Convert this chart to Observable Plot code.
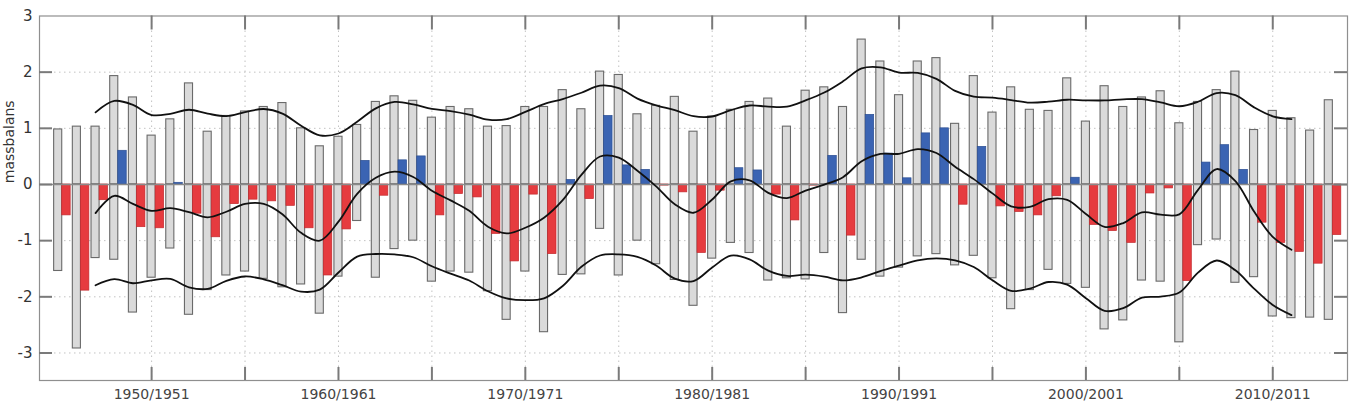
<!DOCTYPE html>
<html><head><meta charset="utf-8">
<script src="https://cdn.jsdelivr.net/npm/d3@7"></script>
<script src="https://cdn.jsdelivr.net/npm/@observablehq/plot@0.6"></script>
<style>
html,body{margin:0;padding:0;background:#fff;}
#chart{width:1354px;height:410px;}
</style></head><body><div id="chart"></div>
<script>
// Mass balance year (start year of the hydrological year, e.g. 1945 = 1945/46)
const years = [1945,1946,1947,1948,1949,1950,1951,1952,1953,1954,
  1955,1956,1957,1958,1959,1960,1961,1962,1963,1964,
  1965,1966,1967,1968,1969,1970,1971,1972,1973,1974,
  1975,1976,1977,1978,1979,1980,1981,1982,1983,1984,
  1985,1986,1987,1988,1989,1990,1991,1992,1993,1994,
  1995,1996,1997,1998,1999,2000,2001,2002,2003,2004,
  2005,2006,2007,2008,2009,2010,2011,2012,2013];
const winter = [0.98,1.03,1.03,1.93,1.55,0.87,1.16,1.80,0.94,1.22,
  1.30,1.38,1.45,1.00,0.68,0.85,1.06,1.47,1.57,1.49,
  1.19,1.38,1.34,1.03,1.04,1.38,1.38,1.68,1.34,2.01,
  1.95,1.25,1.40,1.56,0.94,1.21,1.33,1.47,1.53,1.03,
  1.67,1.73,1.38,2.58,2.19,1.59,2.19,2.25,1.08,1.93,
  1.28,1.73,1.33,1.31,1.89,1.12,1.75,1.38,1.55,1.66,
  1.09,1.47,1.68,2.01,0.97,1.31,1.18,0.96,1.50];
const summer = [-1.54,-2.92,-1.31,-1.34,-2.28,-1.66,-1.14,-2.32,-1.88,-1.62,
  -1.55,-1.68,-1.83,-1.78,-2.30,-1.64,-0.65,-1.66,-1.15,-1.00,
  -1.73,-1.55,-1.57,-1.90,-2.41,-1.55,-2.63,-1.61,-1.60,-0.79,
  -1.62,-1.00,-1.42,-1.70,-2.16,-1.32,-1.04,-1.22,-1.71,-1.67,
  -1.69,-1.22,-2.29,-1.34,-1.64,-1.48,-1.28,-1.24,-1.44,-1.27,
  -1.67,-2.22,-1.88,-1.52,-1.77,-1.84,-2.58,-2.42,-1.71,-1.73,
  -2.81,-1.08,-0.98,-1.75,-1.65,-2.35,-2.38,-2.37,-2.41];
const net = [-0.55,-1.89,-0.28,0.60,-0.76,-0.78,0.03,-0.52,-0.94,-0.35,
  -0.27,-0.30,-0.38,-0.78,-1.62,-0.80,0.42,-0.20,0.43,0.50,
  -0.55,-0.17,-0.23,-0.88,-1.37,-0.18,-1.24,0.08,-0.26,1.22,
  0.34,0.26,-0.02,-0.14,-1.22,-0.11,0.29,0.25,-0.18,-0.64,
  -0.02,0.51,-0.91,1.24,0.55,0.11,0.91,1.00,-0.36,0.67,
  -0.39,-0.49,-0.55,-0.21,0.12,-0.72,-0.83,-1.04,-0.16,-0.07,
  -1.72,0.39,0.70,0.26,-0.68,-1.04,-1.20,-1.41,-0.90];

const xTickYears = [1950,1955,1960,1965,1970,1975,1980,1985,1990,1995,2000,2005,2010];
const xLabelYears = [1950,1960,1970,1980,1990,2000,2010];
const xLabels = ["1950/1951","1960/1961","1970/1971","1980/1981","1990/1991","2000/2001","2010/2011"];
const yTicks = [-3,-2,-1,0,1,2,3];
const yGrid = [-3,-2,-1,1,2];
const yInnerTicks = [-3,-2,-1,0,1,2];
const yLabel = "massbalans";

const rows = years.map((year, i) => ({year, winter: winter[i], summer: summer[i], net: net[i]}));

// 5-year binomial (1-4-6-4-1) smoothing, computed by Plot's window transform
const binomial5 = (v) => (v.length < 5) ? NaN : (v[0] + 4 * v[1] + 6 * v[2] + 4 * v[3] + v[4]) / 16;
const smooth = (field) => Plot.line(rows, Plot.windowY(
  {k: 5, anchor: "middle", strict: true, reduce: binomial5},
  {x: "year", y: field, stroke: "#111", strokeWidth: 1.8, curve: "catmull-rom"}
));

const W = 1354, H = 410, mL = 39, mR = 7, mT = 15.5, mB = 30;
const frameW = W - mL - mR, frameH = H - mT - mB;

const grayBar = (field) => Plot.rect(rows, {
  x1: d => d.year - 0.5, x2: d => d.year + 0.5, y1: 0, y2: field,
  insetLeft: 5.3, insetRight: 5.3,
  fill: "#dadada", stroke: "#6a6a6a", strokeWidth: 1.1
});
const netBar = (positive) => Plot.rect(rows, {
  filter: d => positive ? d.net >= 0 : d.net < 0,
  x1: "year", x2: d => d.year + 1, y1: 0, y2: "net",
  insetLeft: 4, insetRight: 6.2,
  fill: positive ? "#3b64b3" : "#e63b3f",
  stroke: positive ? "#2c4f93" : "#c32a2e", strokeWidth: 0.7
});

const chart = Plot.plot({
  width: W, height: H,
  marginLeft: mL, marginRight: mR, marginTop: mT, marginBottom: mB,
  style: {fontFamily: "'DejaVu Sans', sans-serif", fontSize: "14px", background: "#fff"},
  x: {type: "linear", domain: [1944, 2014], axis: null},
  y: {domain: [-3.49, 3], axis: null},
  marks: [
    Plot.ruleY(yGrid, {stroke: "#c2c2c2", strokeWidth: 1, strokeDasharray: "1.5,3.5"}),
    Plot.ruleX(xTickYears, {stroke: "#c2c2c2", strokeWidth: 1, strokeDasharray: "1.5,3.5"}),
    grayBar("winter"),
    grayBar("summer"),
    netBar(true),
    netBar(false),
    Plot.ruleY([0], {stroke: "#8a8a8a", strokeWidth: 1.4}),
    smooth("winter"),
    smooth("net"),
    smooth("summer"),
    Plot.frame({stroke: "#8f8f8f", strokeWidth: 1.2}),
    Plot.tickY(yInnerTicks, {y: d => d, stroke: "#7a7a7a", strokeWidth: 2, insetRight: frameW - 13}),
    Plot.tickY(yInnerTicks, {y: d => d, stroke: "#7a7a7a", strokeWidth: 2, insetLeft: frameW - 13}),
    Plot.tickX(xTickYears, {x: d => d, stroke: "#7a7a7a", strokeWidth: 2, insetTop: frameH - 13}),
    Plot.tickX(xTickYears, {x: d => d, stroke: "#7a7a7a", strokeWidth: 2, insetBottom: frameH - 14}),
    Plot.text(yTicks, {y: d => d, frameAnchor: "left", dx: -7, textAnchor: "end",
      text: d => String(d), fontSize: 15, fill: "#333"}),
    Plot.text(xLabelYears, {x: d => d, frameAnchor: "bottom", dy: 9, lineAnchor: "top",
      text: (d, i) => xLabels[i], fontSize: 14, fill: "#444"}),
    Plot.text([yLabel], {frameAnchor: "left", dx: -30, dy: -15, rotate: -90,
      text: d => d, fontSize: 14, fill: "#333"})
  ]
});
document.getElementById("chart").appendChild(chart);
</script>
</body></html>
